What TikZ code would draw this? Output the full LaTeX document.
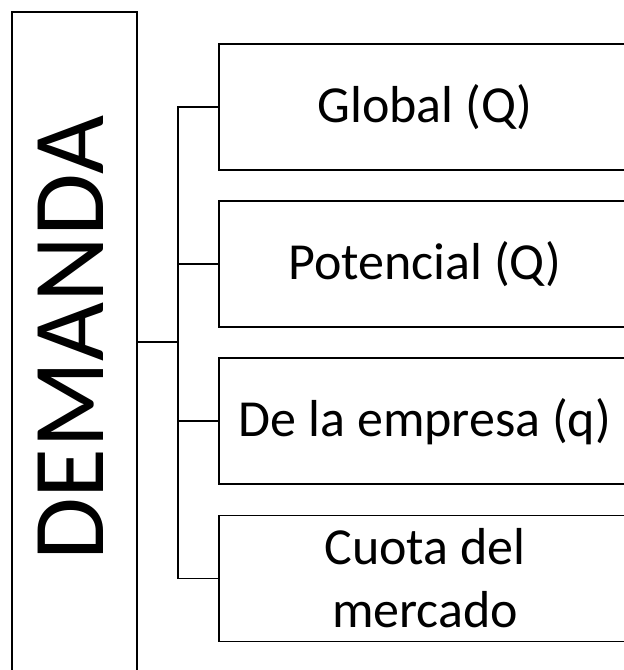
\documentclass[tikz,border=0pt]{standalone}
\usepackage{fontspec}
\setmainfont{Carlito}
\usetikzlibrary{positioning}

\tikzset{
  opt/.style={draw, line width=1.6pt, minimum width=412pt, minimum height=126pt,
    align=center, font=\fontsize{52}{63}\selectfont, inner sep=0pt},
  tree/.style={line width=1.6pt}
}

\begin{document}
\begin{tikzpicture}[x=1pt,y=1pt]
\useasboundingbox (0,0) rectangle (624,-670);
%caja izquierda
\node[draw, line width=1.6pt, minimum width=125pt, minimum height=680pt, inner sep=0pt] (dem) at (74.5,-352) {};
\node[rotate=90, font=\fontsize{102}{110}\selectfont, inner sep=0pt] (demtxt) at (71,-338.5) {DEMANDA};

%opciones
\node[opt] (glob) at (425,-107) {Global (Q)};
\node[opt, below=29.5pt of glob] (pot) {Potencial (Q)};
\node[opt, below=29.5pt of pot] (emp) {De la empresa (q)};
\node[opt, below=29.5pt of emp] (cuota) {Cuota del\\mercado};

%llaves
\coordinate (hub) at (178,-342);
\draw[tree] (dem.east |- hub) -- (hub);
\draw[tree] (glob.west) -| (hub) |- (cuota.west);
\draw[tree] (pot.west) -- (pot.west -| hub);
\draw[tree] (emp.west) -- (emp.west -| hub);
\end{tikzpicture}
\end{document}
